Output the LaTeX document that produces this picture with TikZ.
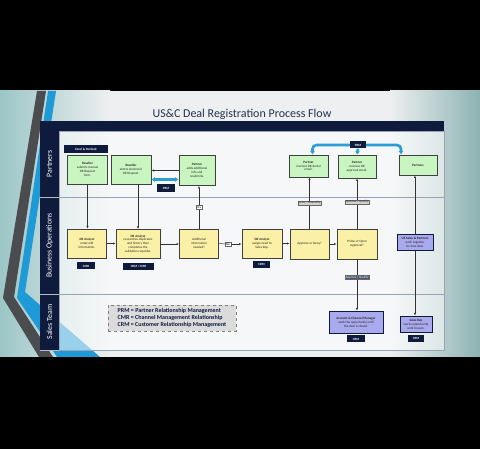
\documentclass[tikz,border=0pt]{standalone}
\usepackage{fontspec}
\setmainfont{Carlito}
\usetikzlibrary{arrows.meta, positioning, shapes.geometric, calc}

\definecolor{navy}{HTML}{0E1B3D}
\definecolor{prmblue}{HTML}{2A9FD6}
\definecolor{boxgreen}{HTML}{C9F5C0}
\definecolor{boxyellow}{HTML}{FBF1A6}
\definecolor{boxblue}{HTML}{A9A9EE}
\definecolor{lanegray}{HTML}{9AA3B5}
\definecolor{tealbg}{HTML}{9CC6C6}
\definecolor{slidebg}{HTML}{EDEFF0}
\definecolor{stripegray}{HTML}{4A4C50}
\definecolor{stripeblue}{HTML}{1E9BD7}

\tikzset{
  stepbox/.style={draw=black!75, line width=0.8pt, align=center, inner sep=1pt,
    font=\fontsize{3.3}{3.9}\selectfont, text=black!85},
  greenbox/.style={stepbox, fill=boxgreen},
  yellowbox/.style={stepbox, fill=boxyellow},
  bluebox/.style={stepbox, fill=boxblue, draw=navy},
  tag/.style={fill=navy, text=white, font=\fontsize{3.2}{3.6}\selectfont\bfseries,
    inner sep=0pt, minimum height=7pt},
  lbl/.style={fill=white, draw=black!60, line width=0.3pt,
    font=\fontsize{3.2}{3.6}\selectfont, inner sep=0.8pt},
  lbldark/.style={lbl, fill=navy!75, text=white},
  flow/.style={-{Latex[length=2.6pt,width=2.2pt]}, line width=0.5pt, black!80},
  prm/.style={prmblue, line width=2.6pt, -{Latex[length=3.5pt,width=5pt]}, rounded corners=4pt},
  lane/.style={rotate=90, text=white, font=\fontsize{7.8}{8}\selectfont}
}

\begin{document}
\begin{tikzpicture}[x=1pt, y=-1pt]
    \useasboundingbox (0,0) rectangle (480,449);
    \fill[black] (0,0) rectangle (480,449);
    % slide background
    \fill[slidebg] (0,91) rectangle (480,357);
    \fill[left color=tealbg, right color=slidebg] (0,91) rectangle (110,357);
    \fill[left color=slidebg, right color=tealbg!90!black] (390,91) rectangle (480,357);
    \fill[stripegray] (37,91) -- (46,91) -- (14,297) -- (53,357) -- (39,357) -- (3,298) -- cycle;
    \fill[stripeblue] (48,91) -- (56,91) -- (25,292) -- (100,357) -- (57,357) -- (17,298) -- cycle;

    \node[text=navy!90, font=\fontsize{12}{14}\selectfont] (title) at (242,114) {US\&C Deal Registration Process Flow};

    % lanes
    \fill[navy] (40,121) rectangle (444,131);
    \fill[navy] (40,131) rectangle (59,350);
    \fill[white, opacity=0.55] (59,131) rectangle (444,350);
    \foreach \ya/\yb in {131/197, 197/294, 294/350} {
        \draw[lanegray, line width=0.6pt] (59,\ya) rectangle (444,\yb);
        \draw[white!70!navy, line width=0.4pt] (40,\yb) -- (59,\yb);
    }
    \node[lane] (lpart) at (49.5,164) {Partners};
    \node[lane] (lbus) at (49.5,245.5) {Business Operations};
    \node[lane] (lsales) at (49.5,322) {Sales Team};

    % partners
    \node[tag, minimum width=44pt, minimum height=8pt] (excel) at (86,149) {Excel \& Outlook};
    \node[greenbox, minimum width=40pt, minimum height=29pt] (res1) at (87.5,169.5) {\textbf{Reseller}\\submits manual\\DR Request\\form.};
    \node[greenbox, minimum width=40pt, minimum height=29pt] (res2) at (131,169.5) {\textbf{Reseller}\\enters electronic\\DR Request.};
    \node[greenbox, minimum width=36pt, minimum height=30pt] (padd) at (197,170.5) {\textbf{Partner}\\adds additional\\info and\\resubmits.};
    \node[tag, minimum width=18pt, minimum height=8pt] (prm1) at (166,188) {PRM};
    \node[greenbox, minimum width=39pt, minimum height=22pt] (pden) at (308.5,166) {\textbf{Partner}\\receives DR denial\\email.};
    \node[greenbox, minimum width=38pt, minimum height=23pt] (papp) at (357,166.5) {\textbf{Partner}\\receives DR\\approval email.};
    \node[greenbox, minimum width=38pt, minimum height=20pt] (pall) at (418,165) {\textbf{Partners}};
    \node[tag, minimum width=16pt] (prm2) at (358,145) {PRM};

    % business operations
    \node[yellowbox, minimum width=39pt, minimum height=29pt] (dra1) at (87,243.5) {\textbf{DR Analyst}\\enters DR\\information.};
    \node[tag, minimum width=18pt] (cmr) at (86,266) {CMR};
    \node[yellowbox, minimum width=44pt, minimum height=29pt] (dra2) at (138,244) {\textbf{DR Analyst}\\researches duplicates\\and history then\\completes the\\validation requisite.};
    \node[tag, minimum width=31pt] (crmcmr) at (138.5,266.5) {CRM / CMR};
    \node[yellowbox, minimum width=39pt, minimum height=29pt] (addl) at (199,243.5) {Additional\\information\\needed?};
    \node[lbl] (no) at (228,244) {No};
    \node[yellowbox, minimum width=40pt, minimum height=29pt] (dra3) at (262,243.5) {\textbf{DR Analyst}\\assigns lead to\\Sales Rep.};
    \node[tag, minimum width=17pt] (crm1) at (261.5,264.5) {CRM};
    \node[yellowbox, minimum width=39pt, minimum height=30pt] (appdeny) at (309.5,244) {Approve or Deny?};
    \node[yellowbox, minimum width=40pt, minimum height=30pt] (prime) at (357,244) {Prime or Open\\Approval?};
    \node[bluebox, minimum width=36pt, minimum height=16pt] (team) at (415,242.5) {\textbf{US Sales \& Partners}\\work together\\to close deal.};

    % sales team
    \node[fill=black!14, draw=black!50, dashed, line width=0.5pt, text=navy, align=left,
          font=\fontsize{6}{7.2}\selectfont\bfseries, minimum width=128pt, minimum height=26pt,
          inner sep=2pt] (legend) at (172,318)
          {PRM = Partner Relationship Management\\CMR = Channel Management Relationship\\CRM = Customer Relationship Management};
    \node[bluebox, minimum width=54pt, minimum height=22pt] (acm) at (356,322) {\textbf{Account \& Channel Manager}\\work the opportunity until\\the deal is closed.};
    \node[tag, minimum width=18pt] (crm2) at (356,339) {CRM};
    \node[bluebox, minimum width=32pt, minimum height=16pt] (srep) at (416,324) {\textbf{Sales Rep}\\works opportunity\\until closure.};
    \node[tag, minimum width=16pt] (crm3) at (416,338.5) {CRM};

    % connectors
    \draw[flow] (padd.west) -- (padd.west -| res2.east);
    \draw[prm, {Latex[length=3.5pt,width=5pt]}-{Latex[length=3.5pt,width=5pt]}] ([yshift=-10pt]res2.east) -- ([yshift=-10pt]res2.east -| padd.west);
    \draw[prm] (prm2.west) -| ([xshift=4pt]pden.north);
    \draw[prm] (prm2.east) -| ([xshift=-17pt]pall.north);
    \draw[prm] (prm2.south) -- (papp.north);

    \draw[flow] (res1.south) -- (res1.south |- dra1.north);
    \draw[flow] (res2.south -| dra2.north) -- (dra2.north);
    \draw[flow] (addl.north) -- (addl.north |- padd.south) node[lbl, pos=0.5] (yes) {Yes};
    \draw[flow] (appdeny.north) -- (appdeny.north |- pden.south) node[lbl, fill=black!18, pos=0.5] (deny) {Deny / Disqualify};
    \draw[flow] (prime.north) -- (prime.north |- papp.south) node[lbl, fill=black!18, pos=0.53] (appq) {Approve / Qualify};
    \draw[flow] (team.north) -- (team.north |- pall.south);
    \draw[flow] (team.south) -- (team.south |- srep.north);
    \draw[flow] (prime.south) -- (prime.south |- acm.north) node[lbldark, pos=0.35] (appq2) {Approve / Qualify};

    \draw[flow] (dra1.east) -- (dra1.east -| dra2.west);
    \draw[flow] (dra2.east) -- (dra2.east -| addl.west);
    \draw[line width=0.5pt, black!80] (addl.east) -- (no.west);
    \draw[flow] (no.east) -- (no.east -| dra3.west);
    \draw[flow] (dra3.east) -- (dra3.east -| appdeny.west);
    \draw[flow] (appdeny.east) -- (appdeny.east -| prime.west);
\end{tikzpicture}
\end{document}
